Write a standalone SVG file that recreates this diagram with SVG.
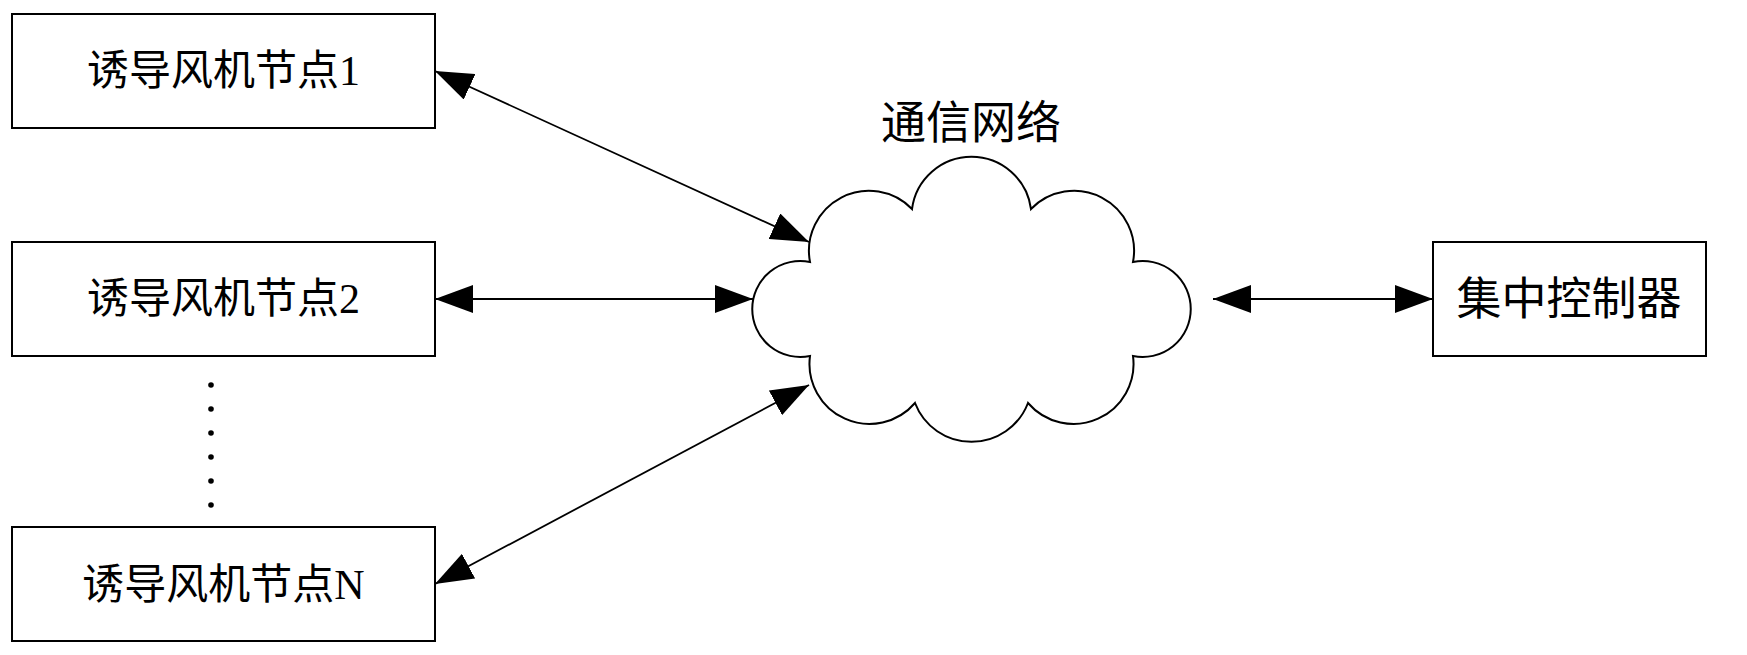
<svg xmlns="http://www.w3.org/2000/svg" width="1747" height="655" viewBox="0 0 1747 655">
<style>
.box{fill:#fff;stroke:#000;stroke-width:2}
.lbl{font-family:"Liberation Serif","Noto Sans CJK SC",serif;font-size:42px;fill:#000;text-anchor:middle}
.big{font-size:45px}
.con{stroke:#000;stroke-width:1.8;fill:none;marker-start:url(#ah);marker-end:url(#ah)}
</style>
<defs>
<marker id="ah" viewBox="0 0 38 28" refX="38" refY="14" markerWidth="38" markerHeight="28" markerUnits="userSpaceOnUse" orient="auto-start-reverse">
<path d="M0,0 L38,14 L0,28 Z" fill="#000"/>
</marker>
</defs>
<rect width="1747" height="655" fill="#fff"/>
<g id="node1">
<rect class="box" x="12" y="14" width="423" height="114"/>
<text class="lbl" x="223.5" y="85">诱导风机节点1</text>
</g>
<g id="node2">
<rect class="box" x="12" y="242" width="423" height="114"/>
<text class="lbl" x="223.5" y="313">诱导风机节点2</text>
</g>
<g id="dots">
<circle cx="211" cy="385" r="2.8"/>
<circle cx="211" cy="409" r="2.8"/>
<circle cx="211" cy="433" r="2.8"/>
<circle cx="211" cy="457" r="2.8"/>
<circle cx="211" cy="481" r="2.8"/>
<circle cx="211" cy="505" r="2.8"/>
</g>
<g id="nodeN">
<rect class="box" x="12" y="527" width="423" height="114"/>
<text class="lbl" x="223.5" y="599">诱导风机节点N</text>
</g>
<g id="network">
<path d="M810,262 A60,60 0 0 1 912,209 A60,60 0 0 1 1031,209 A60,60 0 0 1 1133,262 A48,48 0 1 1 1133,356 A60,60 0 0 1 1028,403 A60.5,60.5 0 0 1 915,403 A60,60 0 0 1 810,356 A48,48 0 1 1 810,262 Z" fill="#fff" stroke="#000" stroke-width="2"/>
<text class="lbl big" x="971" y="139">通信网络</text>
</g>
<g id="controller">
<rect class="box" x="1433" y="242" width="273" height="114"/>
<text class="lbl big" x="1569" y="315">集中控制器</text>
</g>
<g id="connectors">
<line class="con" x1="435" y1="71" x2="809" y2="242"/>
<line class="con" x1="435" y1="299" x2="753" y2="299"/>
<line class="con" x1="435" y1="584" x2="809" y2="385"/>
<line class="con" x1="1213" y1="299" x2="1433" y2="299"/>
</g>
</svg>
